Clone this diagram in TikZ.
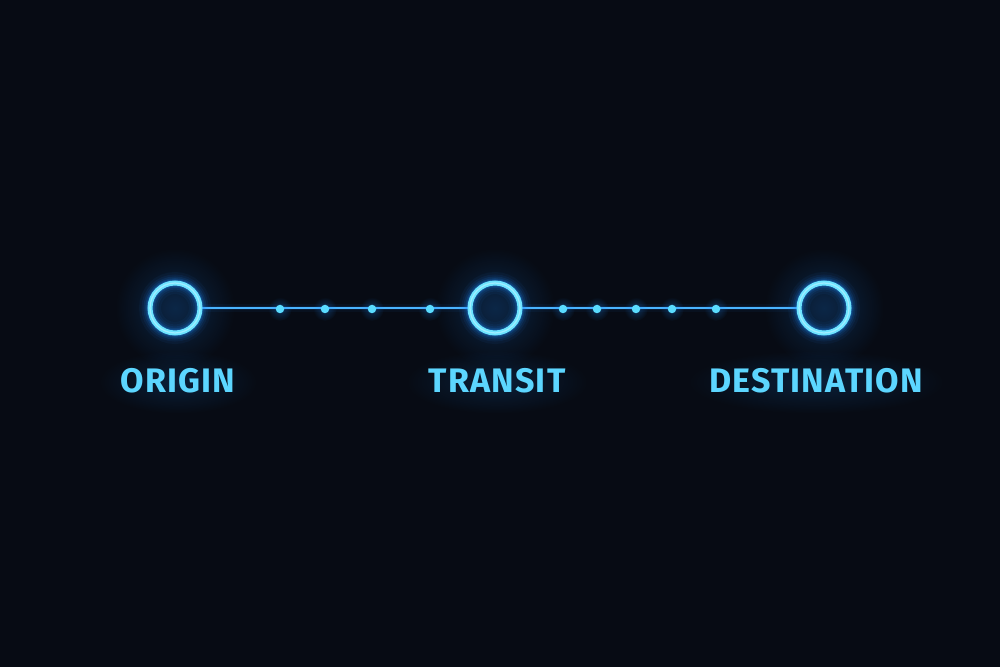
\documentclass[tikz,border=0pt]{standalone}
\usepackage{fontspec}
\usetikzlibrary{fadings}
\newfontfamily\labfont[LetterSpace=3.5]{Fira Sans}
\definecolor{bg}{HTML}{070B14}
\definecolor{ringc}{HTML}{6EE4FF}
\definecolor{glowc}{HTML}{1E8CFF}
\definecolor{linec}{HTML}{4AB4FF}
\definecolor{dotc}{HTML}{5ADCFF}
\definecolor{textc}{HTML}{5CD6FF}
\tikzfading[name=softglow, inner color=transparent!0, outer color=transparent!100]
\tikzset{
  ring/.style={circle, minimum size=50pt, inner sep=0pt},
  lab/.style={text=textc, font=\labfont\bfseries\fontsize{34}{34}\selectfont, anchor=base},
  dotn/.style={circle, fill=dotc, minimum size=8.5pt, inner sep=0pt},
}
\begin{document}
\begin{tikzpicture}[x=1pt,y=1pt]
\fill[bg] (0,0) rectangle (1000,667);
\useasboundingbox (0,0) rectangle (1000,667);
% nodes
\node[ring] (o) at (175,359) {};
\node[ring] (t) at (495,359) {};
\node[ring] (d) at (824,359) {};
% ring soft halos
\foreach \n in {o,t,d}{
  \fill[glowc, opacity=0.22, path fading=softglow] (\n.center) circle (60);
}
% line glow
\foreach \w/\op in {8/0.05,4.5/0.1}{
  \draw[glowc, line width=\w pt, opacity=\op] (o.east) -- (t.west) (t.east) -- (d.west);
}
\draw[linec, line width=1.6pt] (o.east) -- (t.west) (t.east) -- (d.west);
% dots
\foreach \x [count=\i] in {280,325,372,430,563,597,636,672,716}{
  \fill[glowc, opacity=0.3, path fading=softglow] (\x,358) circle (12);
  \node[dotn] (p\i) at (\x,358) {};
}
% ring glows
\foreach \n in {o,t,d}{
  \foreach \w/\op in {22/0.05,17/0.07,13/0.1,9.5/0.15,7/0.2}{
    \draw[glowc, line width=\w pt, opacity=\op] (\n.center) circle (25);
  }
  \draw[ringc, line width=5pt] (\n.center) circle (25);
  \draw[white, line width=1.2pt, opacity=0.35] (\n.center) circle (25);
}
% label glows
\foreach \x/\w in {178/80,497/92,816/130}{
  \fill[glowc, opacity=0.16, path fading=softglow] (\x,285) ellipse (\w pt and 32pt);
}
% labels
\node[lab] (lo) at (178,274) {ORIGIN};
\node[lab] (lt) at (497,274) {TRANSIT};
\node[lab] (ld) at (816,274) {DESTINATION};
\end{tikzpicture}
\end{document}
